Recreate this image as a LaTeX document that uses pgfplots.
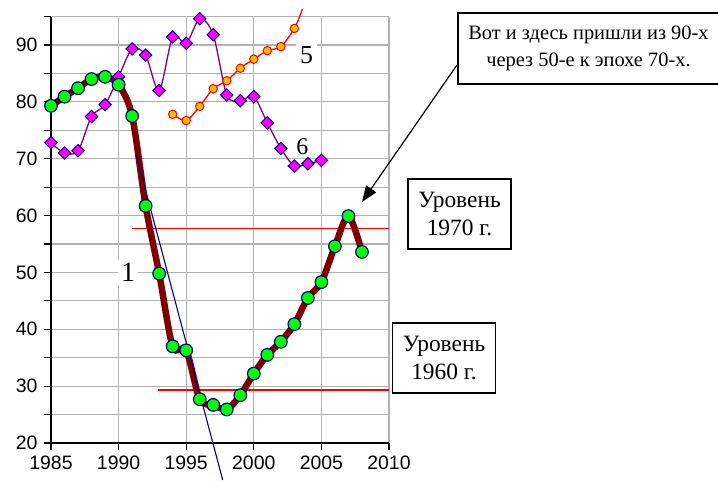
\documentclass[border=0pt]{standalone}
\usepackage{fontspec}
\setmainfont{Liberation Serif}
\setsansfont{Liberation Sans}
\usepackage{pgfplots}
\pgfplotsset{compat=1.18}
\usetikzlibrary{arrows.meta}
\definecolor{sdarkred}{HTML}{800000}
\definecolor{snavy}{HTML}{000080}
\definecolor{sgreen}{HTML}{00FF00}
\definecolor{smag}{HTML}{FF00FF}
\definecolor{spurple}{HTML}{800080}
\definecolor{sorange}{HTML}{FFC000}
\begin{document}
\begin{tikzpicture}
\useasboundingbox (-51bp,-38bp) rectangle (667bp,443bp);
\begin{axis}[at={(0bp,0bp)}, anchor=south west, scale only axis,
  width=338bp, height=426.5bp,
  xmin=1985, xmax=2010, ymin=20, ymax=95,
  axis lines*=left, axis line style={-, line width=1.5bp, black},
  xtick={1985,1990,...,2010}, ytick={20,30,...,90}, minor ytick={25,35,...,95},
  grid=both, major grid style={line width=1.2bp, gray!60}, minor grid style={line width=1.2bp, gray!60},
  tick align=outside, major tick length=7bp, minor tick length=7bp,
  tick style={black, line width=1.2bp},
  tick label style={font=\fontsize{19.5}{20}\selectfont\sffamily},
  xticklabel style={yshift=-2bp},
  yticklabel style={xshift=-3bp},
  /pgf/number format/assume math mode=true, /pgf/number format/1000 sep={},
  clip=false]
% level lines
\addplot[red, line width=1.3bp, no marks] coordinates {(1991.0,57.7) (2010,57.7)};
\addplot[red, line width=1.3bp, no marks] coordinates {(1992.9,29.3) (2010,29.3)};
% series 6
\addplot[spurple, line width=1.3bp, smooth, mark=square*, mark size=4.4bp,
  mark options={rotate=45, fill=smag, draw=snavy, line width=1bp}] coordinates {
(1985,72.8) (1986,71.0) (1987,71.4) (1988,77.4) (1989,79.5) (1990,84.4)
(1991,89.3) (1992,88.2) (1993,82.0) (1994,91.4) (1995,90.3) (1996,94.6)
(1997,91.8) (1998,81.2) (1999,80.2) (2000,80.9) (2001,76.3) (2002,71.8)
(2003,68.7) (2004,69.1) (2005,69.7)};
% series 5
\addplot[red, line width=1.3bp, smooth, mark=*, mark size=4.2bp, mark indices={1,...,10},
  mark options={fill=sorange, draw=red, line width=1bp}] coordinates {
(1994,77.8) (1995,76.7) (1996,79.2) (1997,82.3) (1998,83.7) (1999,85.9)
(2000,87.5) (2001,89.0) (2002,89.7) (2003,92.9) (2003.6,96.3)};
% series 1
\addplot[sdarkred, line width=6.5bp, smooth, mark=*, mark size=6.3bp,
  mark options={fill=sgreen, draw=snavy, line width=1.2bp}] coordinates {
(1985,79.3) (1986,80.9) (1987,82.4) (1988,84.0) (1989,84.4) (1990,83.0)
(1991,77.5) (1992,61.7) (1993,49.8) (1994,37.0) (1995,36.3) (1996,27.7)
(1997,26.7) (1998,25.9) (1999,28.4) (2000,32.2) (2001,35.5) (2002,37.8)
(2003,40.9) (2004,45.5) (2005,48.3) (2006,54.6) (2007,59.9) (2008,53.6)};
% trend
\addplot[snavy, line width=1.1bp, no marks] coordinates {(1991.3,70.7) (1997.7,13.5)};
\node[fill=white, inner sep=3bp, font=\fontsize{28}{28}\selectfont] at (axis cs:1990.7,50) {1};
\node[fill=white, inner sep=4bp, font=\fontsize{26}{26}\selectfont] at (axis cs:2003.9,88.2) {5};
\node[fill=white, inner sep=2bp, font=\fontsize{24}{24}\selectfont] at (axis cs:2003.6,72.1) {6};
\end{axis}
\node[draw, fill=white, line width=1.2bp, minimum width=103bp, minimum height=70bp, align=center, inner sep=1bp,
  font=\fontsize{23.5}{28}\selectfont] at (408.5bp,229bp) {Уровень\\1970 г.};
\node[draw, fill=white, line width=1.2bp, minimum width=103bp, minimum height=70bp, align=center, inner sep=1bp,
  font=\fontsize{23.5}{28}\selectfont] at (393bp,85bp) {Уровень\\1960 г.};
\node[draw, fill=white, line width=1.2bp, minimum width=261bp, minimum height=71bp, align=center, inner sep=1bp,
  font=\fontsize{20.5}{27}\selectfont] at (537.5bp,394.5bp) {Вот и здесь пришли из 90-х\\через 50-е к эпохе 70-х.};
\draw[line width=1.2bp, -{Triangle[length=16bp,width=12bp]}] (406bp,378bp) -- (311bp,241bp);
\end{tikzpicture}
\end{document}
